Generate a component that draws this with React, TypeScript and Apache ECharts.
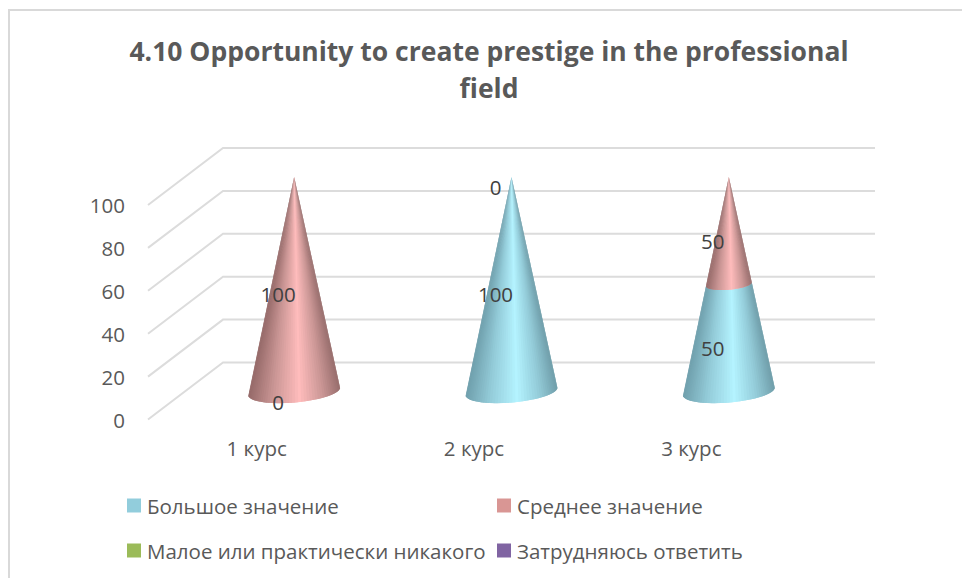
import React, { useEffect, useRef } from "react";
import * as echarts from "echarts";

const titleText = "4.10 Opportunity to create prestige in the professional\nfield";
const categories = ["1 курс", "2 курс", "3 курс"];
const yTicks = [0, 20, 40, 60, 80, 100];
const seriesNames = ["Большое значение", "Среднее значение", "Малое или практически никакого", "Затрудняюсь ответить"];
const bolshoe: (number | null)[] = [0, 100, 50];
const srednee: (number | null)[] = [100, 0, 50];
const maloe: (number | null)[] = [null, null, null];
const zatrud: (number | null)[] = [null, null, null];
const seriesValues = [bolshoe, srednee, maloe, zatrud];
const legendColors = ["#92cddc", "#d99694", "#9bbb59", "#8064a2"];
const shades = [
  [[112, 160, 173], [147, 203, 216], [180, 243, 255], [147, 203, 216], [112, 158, 170]],
  [[150, 106, 105], [201, 149, 148], [255, 188, 188], [203, 151, 150], [152, 110, 109]],
  [[155, 187, 89], [155, 187, 89], [155, 187, 89], [155, 187, 89], [155, 187, 89]],
  [[128, 100, 162], [128, 100, 162], [128, 100, 162], [128, 100, 162], [128, 100, 162]],
];
const shadeStops = [0, 0.25, 0.55, 0.8, 1];
const grey = "#595959";
const fontFamily = '"Open Sans", sans-serif';

const DEPTH_X = 75;
const DEPTH_Y = -57;
const CONE_DX = 37.5;
const CONE_DY = -28;
const RX = 46;
const RY = 11;
const TILT = (-5 * Math.PI) / 180;
const STRIPS = 48;

function arc(cx: number, cy: number, a: number, b: number) {
  const pts: number[][] = [];
  for (let i = 0; i <= STRIPS; i++) {
    const t = Math.PI - (Math.PI * i) / STRIPS;
    const x = a * Math.cos(t);
    const y = b * Math.sin(t);
    pts.push([cx + x * Math.cos(TILT) - y * Math.sin(TILT), cy + x * Math.sin(TILT) + y * Math.cos(TILT)]);
  }
  return pts;
}

function shadeAt(si: number, u: number) {
  const s = shades[si];
  let k = 0;
  while (k < shadeStops.length - 2 && u > shadeStops[k + 1]) k++;
  const f = (u - shadeStops[k]) / (shadeStops[k + 1] - shadeStops[k]);
  const c = s[k].map((v, j) => Math.round(v + (s[k + 1][j] - v) * f));
  return `rgb(${c[0]},${c[1]},${c[2]})`;
}

function coneRender(si: number) {
  return (params: any, api: any) => {
    const cat = api.value(0);
    const v0 = api.value(1);
    const v1 = api.value(2);
    const p0 = api.coord([cat, v0]);
    const p1 = api.coord([cat, v1]);
    const cx = p0[0] + CONE_DX;
    const y0 = p0[1] + CONE_DY;
    const y1 = p1[1] + CONE_DY;
    const f0 = 1 - v0 / 100;
    const f1 = 1 - v1 / 100;
    const children: any[] = [];
    if (v1 > v0) {
      const lower = arc(cx, y0, RX * f0, RY * f0);
      const upper = arc(cx, y1, RX * f1, RY * f1);
      for (let i = 0; i < STRIPS; i++) {
        const mid = Math.PI - (Math.PI * (i + 0.5)) / STRIPS;
        const u = (1 + Math.cos(mid)) / 2;
        const next = Math.min(i + 2, STRIPS);
        children.push({
          type: "polygon",
          shape: { points: [lower[i], lower[next], upper[next], upper[i]] },
          style: { fill: shadeAt(si, u) },
        });
      }
    }
    children.push({
      type: "text",
      z2: 100,
      x: cx - 16,
      y: (y0 + y1) / 2 + 10,
      style: {
        text: String(v1 - v0),
        fill: "#404040",
        font: `20.5px ${fontFamily}`,
        align: "center",
        verticalAlign: "middle",
      },
    });
    return { type: "group", children };
  };
}

function wallRender(params: any, api: any) {
  const v = api.value(0);
  const cs = params.coordSys;
  const y = api.coord([0, v])[1];
  return {
    type: "polyline",
    shape: {
      points: [
        [cs.x, y],
        [cs.x + DEPTH_X, y + DEPTH_Y],
        [cs.x + cs.width + DEPTH_X, y + DEPTH_Y],
      ],
    },
    style: { stroke: "#dcdcdc", lineWidth: 2, fill: "none" },
  };
}

function stacked(si: number) {
  return categories
    .map((_, i) => {
      const v = seriesValues[si][i];
      if (v === null) return null;
      let base = 0;
      for (let k = 0; k < si; k++) base += seriesValues[k][i] ?? 0;
      return [i, base, base + v];
    })
    .filter(Boolean);
}

export default function App() {
  const ref = useRef<HTMLDivElement>(null);
  useEffect(() => {
    const chart = echarts.init(ref.current!, undefined, { renderer: "svg" });
    const legendItem = (name: string, left: number, top: number) => ({
      left,
      top,
      data: [name],
      icon: "rect",
      itemWidth: 14,
      itemHeight: 14,
      itemGap: 0,
      selectedMode: false,
      padding: 0,
      textStyle: { color: grey, fontSize: 20.5, fontFamily, padding: [0, 0, 0, 1] },
    });
    chart.setOption({
      animation: false,
      backgroundColor: "#ffffff",
      title: {
        text: titleText,
        left: 484,
        top: 27,
        textAlign: "center",
        textStyle: { color: grey, fontSize: 26.5, fontWeight: "bold", fontFamily, lineHeight: 37, align: "center" },
      },
      legend: [
        legendItem(seriesNames[0], 127, 495),
        legendItem(seriesNames[1], 497, 495),
        legendItem(seriesNames[2], 127, 540),
        legendItem(seriesNames[3], 497, 540),
      ],
      grid: { left: 148, top: 205, width: 652, height: 214.5 },
      xAxis: {
        type: "category",
        data: categories,
        axisLine: { show: false },
        axisTick: { show: false },
        axisLabel: { color: grey, fontSize: 20.5, fontFamily, margin: 18 },
      },
      yAxis: {
        type: "value",
        min: 0,
        max: 100,
        interval: 20,
        axisLine: { show: false },
        axisTick: { show: false },
        splitLine: { show: false },
        axisLabel: { color: grey, fontSize: 20.5, fontFamily, margin: 23, padding: [0, 0, 2, 0] },
      },
      series: [
        {
          type: "custom",
          silent: true,
          renderItem: wallRender,
          data: yTicks.map((t) => [t]),
          encode: { y: 0 },
          z: 1,
        },
        ...seriesNames.map((name, si) => ({
          type: "custom",
          name,
          silent: true,
          renderItem: coneRender(si),
          data: stacked(si),
          encode: { x: 0, y: [1, 2] },
          itemStyle: { color: legendColors[si] },
          z: 2,
        })),
      ],
      graphic: [
        {
          type: "polyline",
          shape: { points: [[9, 578], [9, 10], [962, 10]] },
          style: { stroke: "#d9d9d9", lineWidth: 2, fill: "none" },
        },
      ],
    });
    return () => chart.dispose();
  }, []);
  return <div ref={ref} style={{ position: "fixed", left: 0, top: 0, width: 962, height: 578, background: "#fff" }} />;
}
